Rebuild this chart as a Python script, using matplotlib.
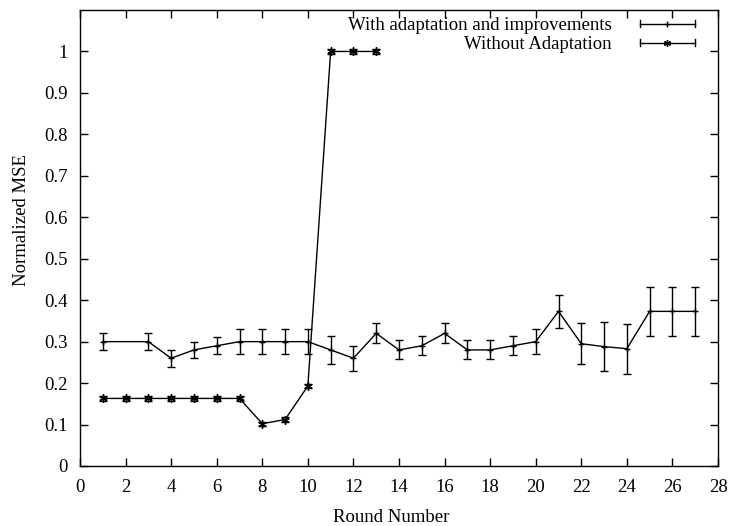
import matplotlib
matplotlib.use("Agg")
import matplotlib.pyplot as plt
from matplotlib.legend_handler import HandlerBase
from matplotlib.lines import Line2D

plt.rcParams['font.family'] = ['Liberation Serif', 'DejaVu Serif']

# Series 1: With adaptation and improvements
rounds_a = [1, 3, 4, 5, 6, 7, 8, 9, 10, 11, 12, 13, 14, 15, 16, 17, 18, 19, 20,
            21, 22, 23, 24, 25, 26, 27]
mse_a = [0.30, 0.30, 0.26, 0.28, 0.29, 0.30, 0.30, 0.30, 0.30, 0.28, 0.26, 0.32,
         0.28, 0.29, 0.32, 0.28, 0.28, 0.29, 0.30, 0.373, 0.295, 0.288, 0.283,
         0.373, 0.373, 0.373]
err_a = [0.02, 0.02, 0.02, 0.02, 0.02, 0.03, 0.03, 0.03, 0.03, 0.034, 0.03, 0.024,
         0.023, 0.023, 0.024, 0.023, 0.023, 0.023, 0.03, 0.04, 0.05, 0.06, 0.06,
         0.06, 0.06, 0.06]

# Series 2: Without Adaptation
rounds_b = [1, 2, 3, 4, 5, 6, 7, 8, 9, 10, 11, 12, 13]
mse_b = [0.163, 0.163, 0.163, 0.163, 0.163, 0.163, 0.163, 0.102, 0.112, 0.193,
         1.0, 1.0, 1.0]
err_b = [0.005] * 13

label_a = "With adaptation and improvements"
label_b = "Without Adaptation"

xticks = list(range(0, 29, 2))
yticks = [0, 0.1, 0.2, 0.3, 0.4, 0.5, 0.6, 0.7, 0.8, 0.9, 1.0]
ytick_labels = ["0", "0.1", "0.2", "0.3", "0.4", "0.5", "0.6", "0.7", "0.8", "0.9", "1"]

FS = 13.5

fig = plt.figure(figsize=(7.3, 5.26), dpi=100)
ax = fig.add_axes([80/730, 1-466/526, (718-80)/730, (466-10)/526])

asterisk = (6, 2, 0)
ax.errorbar(rounds_a, mse_a, yerr=err_a, color='black', lw=1, elinewidth=1,
            capsize=2.6, capthick=1, marker='+', ms=5, mew=1)
ax.errorbar(rounds_b, mse_b, yerr=err_b, color='black', lw=1, elinewidth=1,
            capsize=2.6, capthick=1, marker=asterisk, ms=6, mew=1)


class ErrHandler(HandlerBase):
    def __init__(self, marker):
        super().__init__()
        self.marker = marker

    def create_artists(self, legend, orig_handle, xdescent, ydescent, width,
                       height, fontsize, trans):
        y = height / 2 - ydescent
        x0, x1 = -xdescent, width - xdescent
        arts = [Line2D([x0, x1], [y, y], color='black', lw=1, transform=trans)]
        for x in (x0, x1):
            arts.append(Line2D([x, x], [y - 2.5, y + 2.5], color='black', lw=1,
                               transform=trans))
        arts.append(Line2D([(x0 + x1) / 2], [y], marker=self.marker, ms=5,
                           color='black', mew=1, lw=0, transform=trans))
        return arts


h_a = Line2D([], [])
h_b = Line2D([], [])
ax.legend([h_a, h_b], [label_a, label_b], loc='upper right',
          bbox_to_anchor=((695-80)/638, (466-17)/456),
          handler_map={h_a: ErrHandler('+'), h_b: ErrHandler(asterisk)},
          frameon=False, markerfirst=False, fontsize=FS, handlelength=2.95,
          handletextpad=1.5, labelspacing=0.1, borderaxespad=0, borderpad=0)

ax.set_xlim(0, 28)
ax.set_ylim(0, 1.1)
ax.set_xticks(xticks)
ax.set_yticks(yticks)
ax.set_yticklabels(ytick_labels)
ax.tick_params(axis='both', direction='in', top=True, right=True, length=6,
               width=1, labelsize=FS)
ax.tick_params(axis='x', pad=9)
ax.tick_params(axis='y', pad=9)
ax.set_xlabel("Round Number", fontsize=FS)
ax.set_ylabel("Normalized MSE", fontsize=FS)
ax.xaxis.set_label_coords((391-80)/638, (466-509)/456)
ax.yaxis.set_label_coords((30-80)/638, (466-220)/456)
for s in ax.spines.values():
    s.set_linewidth(1)

fig.savefig("out.png", dpi=100)
